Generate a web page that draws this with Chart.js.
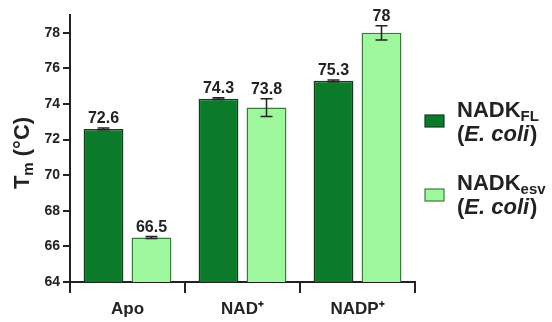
<!DOCTYPE html>
<html>
<head>
<meta charset="utf-8">
<script src="https://cdn.jsdelivr.net/npm/chart.js@4/dist/chart.umd.min.js"></script>
<style>
  html, body { margin: 0; padding: 0; background: #fff; }
  #wrap { width: 552px; height: 322px; position: relative; }
</style>
</head>
<body>
<div id="wrap"><canvas id="c" width="552" height="322"></canvas></div>
<script>
// Melting temperatures (°C) per ligand condition
const categories = ['Apo', 'NAD\u207A', 'NADP\u207A'];
const tmFL = [72.6, 74.3, 75.3];
const tmESV = [66.5, 73.8, 78];
const errFL = [0.05, 0.05, 0.05];
const errESV = [0.05, 0.5, 0.4];
const yTicks = [64, 66, 68, 70, 72, 74, 76, 78];

const darkGreen = '#0b7a2b';
const lightGreen = '#9ef79c';
const ink = '#222222';
const FONT = '"Liberation Sans", Arial, sans-serif';

// Error bars and value labels above each bar
const barDecor = {
  id: 'barDecor',
  afterDatasetsDraw(chart) {
    const ctx = chart.ctx;
    const y = chart.scales.y;
    chart.data.datasets.forEach((ds, di) => {
      const meta = chart.getDatasetMeta(di);
      meta.data.forEach((bar, i) => {
        const v = ds.data[i];
        const e = ds.errors[i];
        const top = y.getPixelForValue(v + e);
        const bot = y.getPixelForValue(v - e);
        ctx.save();
        ctx.strokeStyle = ink;
        ctx.lineWidth = 1.5;
        ctx.beginPath();
        ctx.moveTo(bar.x, top); ctx.lineTo(bar.x, bot);
        ctx.moveTo(bar.x - 6, top); ctx.lineTo(bar.x + 6, top);
        ctx.moveTo(bar.x - 6, bot); ctx.lineTo(bar.x + 6, bot);
        ctx.stroke();
        ctx.fillStyle = ink;
        ctx.font = 'bold 16px ' + FONT;
        ctx.textAlign = 'center';
        ctx.textBaseline = 'alphabetic';
        ctx.fillText(String(v), bar.x, top - 5);
        ctx.restore();
      });
    });
  }
};

// Axis title with subscript, and legend with subscripted names
const annotations = {
  id: 'annotations',
  afterDraw(chart) {
    const ctx = chart.ctx;
    ctx.save();
    ctx.fillStyle = ink;
    // y-axis title: T_m (°C)
    ctx.translate(29, 153);
    ctx.rotate(-Math.PI / 2);
    ctx.textBaseline = 'alphabetic';
    const parts = [['T', 'bold 22px ', 0], ['m', 'bold 15px ', 4], [' (°C)', 'bold 22px ', 0]];
    let total = 0;
    parts.forEach(p => { ctx.font = p[1] + FONT; total += ctx.measureText(p[0]).width; });
    let x = -total / 2;
    parts.forEach(p => {
      ctx.font = p[1] + FONT;
      ctx.fillText(p[0], x, p[2]);
      x += ctx.measureText(p[0]).width;
    });
    ctx.restore();

    // legend
    const items = [
      { color: darkGreen, border: '#143d1c', sub: 'FL', sq: 115, base: 117 },
      { color: lightGreen, border: '#3c7a3c', sub: 'esv', sq: 189, base: 190 }
    ];
    ctx.save();
    items.forEach(it => {
      ctx.fillStyle = it.color;
      ctx.fillRect(425, it.sq, 19, 12);
      ctx.strokeStyle = it.border;
      ctx.lineWidth = 1.2;
      ctx.strokeRect(425, it.sq, 19, 12);
      ctx.fillStyle = ink;
      ctx.textAlign = 'left';
      ctx.textBaseline = 'alphabetic';
      ctx.font = 'bold 22px ' + FONT;
      ctx.fillText('NADK', 457, it.base);
      const w = ctx.measureText('NADK').width;
      ctx.font = 'bold 15px ' + FONT;
      ctx.fillText(it.sub, 457 + w, it.base + 4);
      // (E. coli)
      let lx = 457;
      const ly = it.base + 24;
      const seg = [['(', 'bold 22px '], ['E. coli', 'italic bold 22px '], [')', 'bold 22px ']];
      seg.forEach(s => {
        ctx.font = s[1] + FONT;
        ctx.fillText(s[0], lx, ly);
        lx += ctx.measureText(s[0]).width + (s[0] === 'E. coli' ? 1 : 0);
      });
    });
    ctx.restore();
  }
};

new Chart(document.getElementById('c'), {
  type: 'bar',
  data: {
    labels: categories,
    datasets: [
      { label: 'NADK FL (E. coli)', data: tmFL, errors: errFL, backgroundColor: darkGreen, borderColor: '#143d1c', borderWidth: 1.5 },
      { label: 'NADK esv (E. coli)', data: tmESV, errors: errESV, backgroundColor: lightGreen, borderColor: '#3c7a3c', borderWidth: 1.5 }
    ]
  },
  options: {
    responsive: false,
    animation: false,
    devicePixelRatio: 1,
    layout: { padding: { left: 0, right: 137, top: 15, bottom: 0 } },
    datasets: { bar: { categoryPercentage: 0.835, barPercentage: 0.83 } },
    plugins: { legend: { display: false }, tooltip: { enabled: false } },
    scales: {
      x: {
        grid: { display: true, offset: true, drawOnChartArea: false, drawTicks: true, tickLength: 11, color: ink, lineWidth: 2 },
        border: { display: true, color: ink, width: 2 },
        ticks: { color: ink, font: { family: FONT, size: 17, weight: 'bold' }, padding: 6 },
        afterFit: s => { s.height = 40; }
      },
      y: {
        min: 64, max: 79,
        afterBuildTicks: s => { s.ticks = yTicks.map(v => ({ value: v })); },
        grid: { display: true, drawOnChartArea: false, drawTicks: true, tickLength: 7, color: ink, lineWidth: 2 },
        border: { display: true, color: ink, width: 2 },
        ticks: { color: ink, font: { family: FONT, size: 14, weight: 'bold' }, padding: 3 },
        afterFit: s => { s.width = 70; }
      }
    }
  },
  plugins: [barDecor, annotations]
});
</script>
</body>
</html>
